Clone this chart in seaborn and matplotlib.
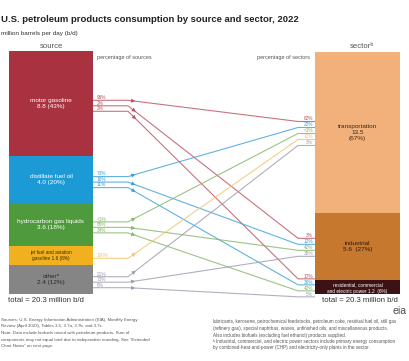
import numpy as np
import matplotlib
matplotlib.use("Agg")
import matplotlib.pyplot as plt
import seaborn as sns

# ---------------- data ----------------
sources = ["motor gasoline", "distillate fuel oil", "hydrocarbon gas liquids",
           "jet fuel and aviation\ngasoline", "other\u1d43"]
source_values = [8.8, 4.0, 3.6, 1.6, 2.4]
source_shares = ["43%", "20%", "18%", "8%", "12%"]

sectors = ["transportation", "industrial", "residential, commercial\nand electric power"]
sector_values = [13.5, 5.6, 1.2]
sector_shares = ["67%", "27%", "6%"]

flow_source = [0, 0, 0, 1, 1, 1, 2, 2, 2, 3, 4, 4, 4]
flow_sector = [0, 1, 2, 0, 1, 2, 0, 1, 2, 0, 0, 1, 2]
pct_of_source = ["96%", "2%", "2%", "73%", "16%", "11%", "<1%", "66%", "34%",
                 "100%", "21%", "73%", "6%"]
pct_of_sector = ["62%", "3%", "17%", "22%", "12%", "36%", "<1%", "42%", "42%",
                 "12%", "3%", "35%", "5%"]

total_label = "total = 20.3 million b/d"

# ---------------- style ----------------
sns.set_theme(style="white")
plt.rcParams['font.family'] = ['Liberation Sans', 'DejaVu Sans']

src_colors = ["#a8323f", "#1c9ad6", "#4f9a3c", "#f1b01f", "#858585"]
src_line_colors = ["#b9505e", "#3a9fd8", "#84b466", "#efc56f", "#9c9cae"]
src_text_colors = ["white", "white", "white", "#3a2b05", "#2a2a2a"]
sec_colors = ["#f2b07b", "#c7782f", "#3c1214"]
sec_text_colors = ["#3a2a1a", "#2e1a08", "white"]

W, H = 410, 361
PX = 11.92          # pixels per million b/d
base_px = 67        # bar bottom, pixels from figure bottom

fig = plt.figure(figsize=(W / 100, H / 100), dpi=100)
ax = fig.add_axes([0, 0, 1, 1])
ax.set_xlim(0, W)
ax.set_ylim(-base_px / PX, (H - base_px) / PX)
ax.axis("off")

left_x, left_w = 51, 84
right_x, right_w = 357.5, 85

# stacked bars (top to bottom order)
src_bottoms = [sum(source_values[i + 1:]) for i in range(len(source_values))]
sec_bottoms = [sum(sector_values[i + 1:]) for i in range(len(sector_values))]

ax.bar([left_x] * len(source_values), source_values, bottom=src_bottoms,
       width=left_w, color=src_colors, linewidth=0)
ax.bar([right_x] * len(sector_values), sector_values, bottom=sec_bottoms,
       width=right_w, color=sec_colors, linewidth=0)

src_centers = [b + v / 2 for b, v in zip(src_bottoms, source_values)]
sec_centers = [b + v / 2 for b, v in zip(sec_bottoms, sector_values)]

# bar labels
for i, (name, v, s) in enumerate(zip(sources, source_values, source_shares)):
    if i == 3:
        txt = f"{name} {v:.1f} ({s})"
        fs = 3.4
    else:
        txt = f"{name}\n{v:.1f} ({s})"
        fs = 4.6
    ax.text(left_x, src_centers[i], txt, ha="center", va="center",
            fontsize=fs, color=src_text_colors[i], linespacing=1.3)

sec_txt = [f"{sectors[0]}\n{sector_values[0]:.1f}\n({sector_shares[0]})",
           f"{sectors[1]}\n{sector_values[1]:.1f}  ({sector_shares[1]})",
           f"{sectors[2]} {sector_values[2]:.1f}  ({sector_shares[2]})"]
sec_fs = [4.6, 4.6, 3.4]
for i in range(len(sectors)):
    ax.text(right_x, sec_centers[i] - (0.1 if i == 2 else 0), sec_txt[i],
            ha="center", va="center", fontsize=sec_fs[i],
            color=sec_text_colors[i], linespacing=1.35)

# flows
x0 = left_x + left_w / 2
x3 = right_x - right_w / 2
xb1 = x0 + 35
xb2 = x3 - 17
sp_l, sp_r = 5.5 / PX, 6.0 / PX

n_src = {i: flow_source.count(i) for i in set(flow_source)}
n_sec = {s: flow_sector.count(s) for s in set(flow_sector)}
idx_src = {i: 0 for i in n_src}
idx_sec = {s: 0 for s in n_sec}

for f in range(len(flow_source)):
    i, s = flow_source[f], flow_sector[f]
    j = idx_src[i]; idx_src[i] += 1
    k = idx_sec[s]; idx_sec[s] += 1
    y0 = src_centers[i] - (j - (n_src[i] - 1) / 2) * sp_l - 2.5 / PX
    y1 = sec_centers[s] - (k - (n_sec[s] - 1) / 2) * sp_r - 1.0 / PX
    c = src_line_colors[i]
    ax.plot([x0, xb1, xb2, x3], [y0, y0, y1, y1], color=c, lw=0.8,
            alpha=0.8, solid_capstyle="butt", zorder=3)
    # arrowhead near the left bend
    t1, t2 = 3 / (xb2 - xb1), 10 / (xb2 - xb1)
    p1 = (xb1 + t1 * (xb2 - xb1), y0 + t1 * (y1 - y0))
    p2 = (xb1 + t2 * (xb2 - xb1), y0 + t2 * (y1 - y0))
    ax.annotate("", xy=p2, xytext=p1,
                arrowprops=dict(arrowstyle="-|>,head_length=0.5,head_width=0.25",
                                color=c, lw=0, mutation_scale=6), zorder=4)
    ax.text(x0 + 4, y0 + 2.6 / PX, pct_of_source[f], ha="left", va="center",
            fontsize=3.4, color=c)
    ax.text(x3 - 2, y1 + 2.6 / PX, pct_of_sector[f], ha="right", va="center",
            fontsize=3.4, color=c)

# ---------------- texts ----------------
def ftext(x, y, s, **kw):
    fig.text(x / W, 1 - y / H, s, **kw)

ftext(1, 20, "U.S. petroleum products consumption by source and sector, 2022",
      fontsize=6.8, fontweight="bold", color="#222222", va="center")
ftext(1, 33, "million barrels per day (b/d)", fontsize=4.6, color="#333333", va="center")
ftext(left_x, 46, "source", fontsize=5.6, color="#555555", ha="center", va="center")
ftext(right_x + 4, 46, "sector\u1d47", fontsize=5.6, color="#555555", ha="center", va="center")
ftext(97, 57, "percentage of sources", fontsize=4.0, color="#555555", va="center")
ftext(310, 57, "percentage of sectors", fontsize=4.0, color="#555555", va="center", ha="right")
ftext(8, 301, total_label, fontsize=5.6, color="#333333", va="center")
ftext(398, 301, total_label, fontsize=5.6, color="#333333", va="center", ha="right")

left_notes = ["Sources: U.S. Energy Information Administration (EIA), Monthly Energy",
              "Review (April 2023), Tables 3.5, 3.7a, 3.7b, and 3.7c.",
              "Note: Data include biofuels mixed with petroleum products. Sum of",
              "components may not equal total due to independent rounding. See \"Extended",
              "Chart Notes\" on next page."]
right_notes = ["lubricants, kerosene, petrochemical feedstocks, petroleum coke, residual fuel oil, still gas",
               "(refinery gas), special naphthas, waxes, unfinished oils, and miscellaneous products.",
               "Also includes biofuels (excluding fuel ethanol) products supplied.",
               "\u1d47 Industrial, commercial, and electric power sectors include primary energy consumption",
               "by combined-heat-and-power (CHP) and electricity-only plants in the sector."]
for n, line in enumerate(left_notes):
    ftext(1, 320 + n * 6.5, line, fontsize=3.2, color="#555555", va="center")
for n, line in enumerate(right_notes):
    ftext(213, 322 + n * 6.5, line, fontsize=3.3, color="#555555", va="center")

ftext(407, 311, "eia", fontsize=7.5, color="#4a4a4a", ha="right", va="center")

fig.savefig("out.png", dpi=100)
